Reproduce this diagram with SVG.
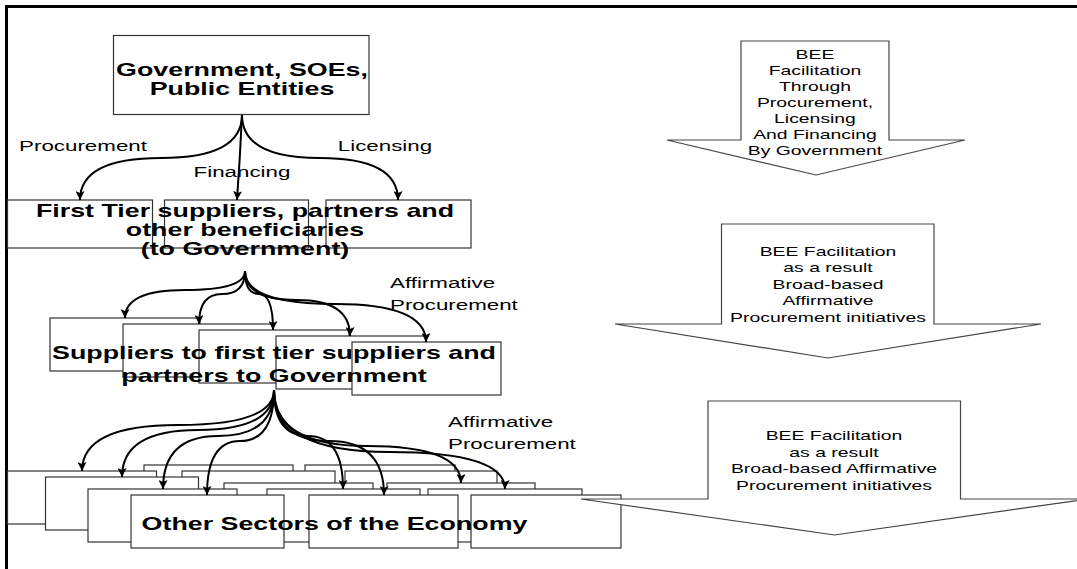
<svg xmlns="http://www.w3.org/2000/svg" width="1077" height="569" viewBox="0 0 1077 569">
<defs>
<style>
.bx{fill:#fff;stroke:#333;stroke-width:1.2}
.ar{fill:#fff;stroke:#444;stroke-width:1.2}
.cn{fill:none;stroke:#000;stroke-width:2;marker-end:url(#ah)}
.b{font-family:"Liberation Sans",Arial,sans-serif;font-weight:bold;font-size:18px;text-anchor:middle;fill:#000}
.l{font-family:"Liberation Sans",Arial,sans-serif;font-size:15px;fill:#000}
.m{text-anchor:middle}
.t{font-family:"Liberation Sans",Arial,sans-serif;font-size:13px;text-anchor:middle;fill:#000}
</style>
<marker id="ah" markerWidth="9" markerHeight="9" refX="9" refY="4.5" orient="auto" markerUnits="userSpaceOnUse" viewBox="0 0 9 9"><path d="M0,0 L9,4.5 L0,9 L2,4.5 z" fill="#000"/></marker>
</defs>
<rect width="1077" height="569" fill="#fff"/>
<path d="M6.5,5 V569 M5,6.5 H1077" stroke="#000" stroke-width="3" fill="none"/>

<g id="top-node">
<rect class="bx" x="113.5" y="35.5" width="255.5" height="79"/>
<text class="b" transform="translate(242,76) scale(1.49,1)">Government, SOEs,</text>
<text class="b" transform="translate(242,95) scale(1.49,1)">Public Entities</text>
</g>

<g id="tier1-node">
<rect class="bx" x="7.5" y="200" width="145" height="48"/>
<rect class="bx" x="164.5" y="200" width="144" height="48"/>
<rect class="bx" x="326" y="200" width="145" height="48"/>
<text class="b" transform="translate(245,217) scale(1.49,1)">First Tier suppliers, partners and</text>
<text class="b" transform="translate(245,236) scale(1.49,1)">other beneficiaries</text>
<text class="b" transform="translate(245,255) scale(1.49,1)">(to Government)</text>
</g>

<g id="tier2-node">
<rect class="bx" x="50" y="318" width="150" height="53"/>
<rect class="bx" x="123" y="324" width="150" height="53"/>
<rect class="bx" x="199" y="330" width="150" height="53"/>
<rect class="bx" x="276" y="336" width="150" height="53"/>
<rect class="bx" x="352" y="342" width="149" height="53"/>
<text class="b" transform="translate(274,359) scale(1.49,1)">Suppliers to first tier suppliers and</text>
<text class="b" transform="translate(274,382) scale(1.49,1)">partners to Government</text>
</g>

<g id="economy-node">
<rect class="bx" x="144" y="465" width="149" height="53"/>
<rect class="bx" x="305" y="465" width="150" height="53"/>
<rect class="bx" x="182" y="471" width="153" height="53"/>
<rect class="bx" x="345" y="471" width="152" height="53"/>
<rect class="bx" x="7.5" y="471" width="149" height="53"/>
<rect class="bx" x="45.5" y="477" width="153" height="53"/>
<rect class="bx" x="224" y="483" width="149" height="53"/>
<rect class="bx" x="387" y="483" width="148" height="53"/>
<rect class="bx" x="88" y="489" width="149" height="53"/>
<rect class="bx" x="267" y="489" width="153" height="53"/>
<rect class="bx" x="428" y="489" width="154" height="53"/>
<rect class="bx" x="131" y="495" width="153" height="53"/>
<rect class="bx" x="309" y="495" width="149" height="53"/>
<rect class="bx" x="471" y="495" width="150" height="53"/>
<text class="b" transform="translate(334.5,530) scale(1.49,1)">Other Sectors of the Economy</text>
</g>

<g id="connectors">
<path class="cn" d="M242,115 Q242,158 161,158 Q80,158 80,200"/>
<path class="cn" d="M242,115 Q240,158 237,200"/>
<path class="cn" d="M242,115 Q242,158 320,158 Q398,158 398,200"/>
<path class="cn" d="M245,271 Q245,290 185,290 Q125,290 125,318"/>
<path class="cn" d="M245,271 Q245,294 222,294 Q199,294 199,324"/>
<path class="cn" d="M245,271 Q245,294 259,294 Q273,294 273,330"/>
<path class="cn" d="M245,271 Q245,300 297,300 Q350,300 350,336"/>
<path class="cn" d="M245,271 Q245,304 335,304 Q426,304 426,342"/>
<path class="cn" d="M274,390 Q274,425 178,425 Q82,425 82,471"/>
<path class="cn" d="M274,390 Q274,430 198,430 Q122,430 122,477"/>
<path class="cn" d="M274,390 Q274,436 218,436 Q163,436 163,489"/>
<path class="cn" d="M274,390 Q274,441 240,441 Q207,441 207,495"/>
<path class="cn" d="M274,390 Q274,436 308,436 Q343,436 343,489"/>
<path class="cn" d="M274,390 Q274,441 329,441 Q384,441 384,495"/>
<path class="cn" d="M274,390 Q274,446 367,446 Q461,446 461,483"/>
<path class="cn" d="M274,390 Q274,452 389,452 Q505,452 505,489"/>
</g>

<g id="labels">
<text class="l m" transform="translate(83,151) scale(1.49,1)">Procurement</text>
<text class="l m" transform="translate(242,177) scale(1.49,1)">Financing</text>
<text class="l m" transform="translate(385,151) scale(1.49,1)">Licensing</text>
<text class="l" transform="translate(390,288) scale(1.49,1)">Affirmative</text>
<text class="l" transform="translate(390,310) scale(1.49,1)">Procurement</text>
<text class="l" transform="translate(448,427) scale(1.49,1)">Affirmative</text>
<text class="l" transform="translate(448,449) scale(1.49,1)">Procurement</text>
</g>

<g id="arrow1">
<polygon class="ar" points="741,41 889,41 889,140 965,140 816,175 667,140 741,140"/>
<text class="t" transform="translate(815,59) scale(1.49,1)">BEE</text>
<text class="t" transform="translate(815,75) scale(1.49,1)">Facilitation</text>
<text class="t" transform="translate(815,91) scale(1.49,1)">Through</text>
<text class="t" transform="translate(815,107) scale(1.49,1)">Procurement,</text>
<text class="t" transform="translate(815,123) scale(1.49,1)">Licensing</text>
<text class="t" transform="translate(815,139) scale(1.49,1)">And Financing</text>
<text class="t" transform="translate(815,155) scale(1.49,1)">By Government</text>
</g>

<g id="arrow2">
<polygon class="ar" points="721.5,224 934,224 934,324 1041,324 828,358 615,324 721.5,324"/>
<text class="t" transform="translate(828,256) scale(1.49,1)">BEE Facilitation</text>
<text class="t" transform="translate(828,272) scale(1.49,1)">as a result</text>
<text class="t" transform="translate(828,288.5) scale(1.49,1)">Broad-based</text>
<text class="t" transform="translate(828,305) scale(1.49,1)">Affirmative</text>
<text class="t" transform="translate(828,322) scale(1.49,1)">Procurement initiatives</text>
</g>

<g id="arrow3">
<polygon class="ar" points="708,401 960.5,401 960.5,499 1088,499 834.5,535 581,499 708,499"/>
<text class="t" transform="translate(834,440) scale(1.49,1)">BEE Facilitation</text>
<text class="t" transform="translate(834,456.5) scale(1.49,1)">as a result</text>
<text class="t" transform="translate(834,473) scale(1.49,1)">Broad-based Affirmative</text>
<text class="t" transform="translate(834,490) scale(1.49,1)">Procurement initiatives</text>
</g>
</svg>
